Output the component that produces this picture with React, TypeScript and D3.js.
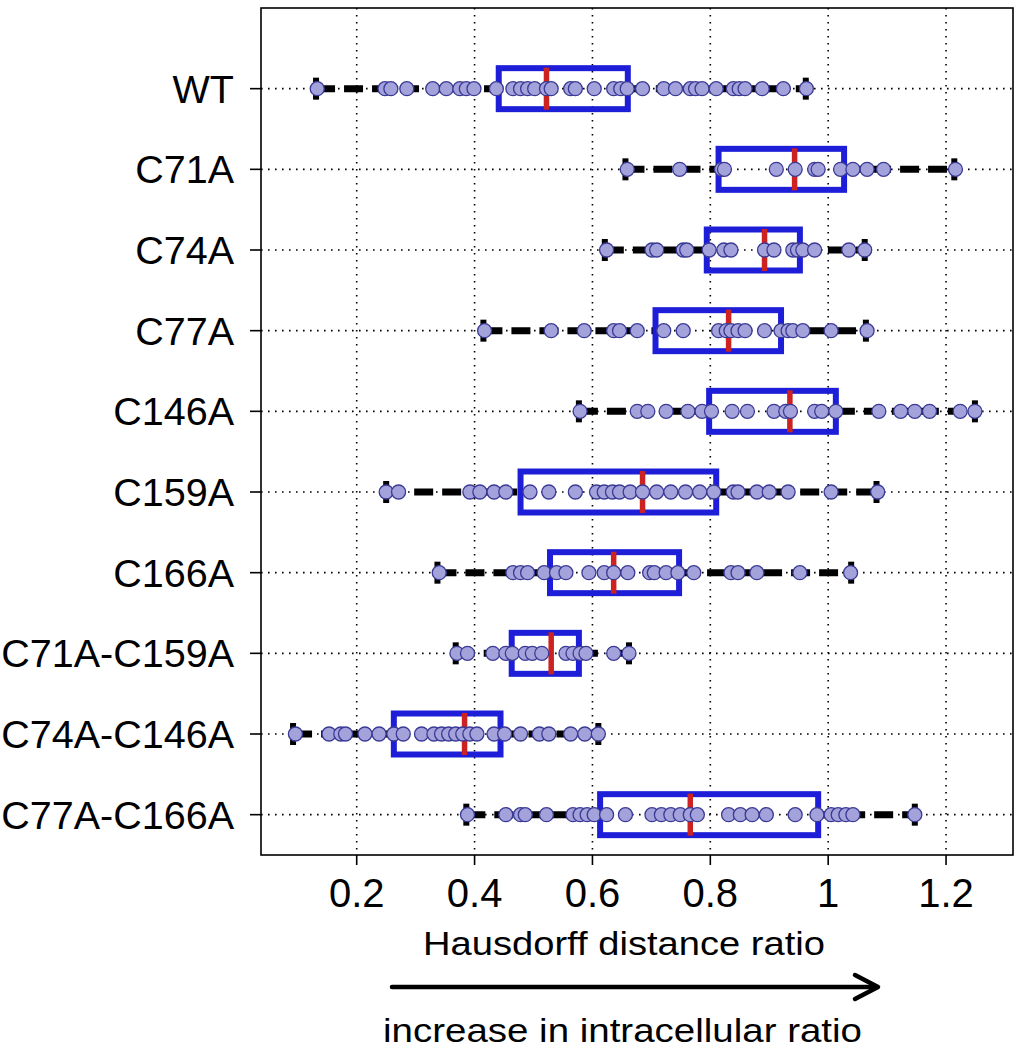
import React from "react";
import * as d3 from "d3";

const categories = ["WT", "C71A", "C74A", "C77A", "C146A", "C159A", "C166A", "C71A-C159A", "C74A-C146A", "C77A-C166A"];

const q1 = [0.441, 0.814, 0.794, 0.707, 0.798, 0.478, 0.528, 0.463, 0.263, 0.613];
const medians = [0.522, 0.943, 0.892, 0.831, 0.935, 0.685, 0.636, 0.530, 0.383, 0.766];
const q3 = [0.660, 1.027, 0.952, 0.920, 1.013, 0.810, 0.747, 0.577, 0.444, 0.983];
const whiskerLo = [0.131, 0.656, 0.621, 0.415, 0.577, 0.250, 0.337, 0.368, 0.092, 0.386];
const whiskerHi = [0.962, 1.214, 1.062, 1.064, 1.249, 1.082, 1.039, 0.662, 0.610, 1.147];

const pointsWT = [0.133, 0.248, 0.258, 0.285, 0.329, 0.352, 0.375, 0.386, 0.399, 0.437, 0.465, 0.478, 0.490, 0.502, 0.522, 0.530, 0.563, 0.571, 0.603, 0.636, 0.648, 0.659, 0.685, 0.721, 0.741, 0.766, 0.775, 0.786, 0.810, 0.839, 0.849, 0.859, 0.888, 0.924, 0.963];
const pointsC71A = [0.659, 0.748, 0.819, 0.824, 0.912, 0.944, 0.977, 0.983, 1.021, 1.042, 1.066, 1.094, 1.216];
const pointsC74A = [0.624, 0.701, 0.709, 0.754, 0.760, 0.798, 0.823, 0.835, 0.892, 0.908, 0.940, 0.948, 0.957, 0.977, 1.035, 1.062];
const pointsC77A = [0.417, 0.530, 0.586, 0.636, 0.646, 0.676, 0.721, 0.754, 0.814, 0.827, 0.835, 0.847, 0.859, 0.892, 0.920, 0.932, 0.940, 0.957, 1.005, 1.066];
const pointsC146A = [0.579, 0.676, 0.694, 0.725, 0.762, 0.786, 0.802, 0.837, 0.863, 0.908, 0.928, 0.936, 0.977, 0.989, 1.013, 1.086, 1.123, 1.147, 1.172, 1.224, 1.249];
const pointsC159A = [0.250, 0.271, 0.392, 0.409, 0.433, 0.453, 0.494, 0.526, 0.571, 0.607, 0.620, 0.634, 0.646, 0.664, 0.685, 0.709, 0.733, 0.758, 0.782, 0.806, 0.839, 0.847, 0.879, 0.900, 0.932, 1.005, 1.084];
const pointsC166A = [0.340, 0.465, 0.478, 0.490, 0.518, 0.539, 0.555, 0.594, 0.620, 0.636, 0.660, 0.697, 0.705, 0.725, 0.745, 0.772, 0.835, 0.847, 0.879, 0.952, 1.038];
const pointsC71AC159A = [0.370, 0.388, 0.431, 0.453, 0.464, 0.486, 0.498, 0.514, 0.555, 0.567, 0.579, 0.589, 0.636, 0.662];
const pointsC74AC146A = [0.096, 0.153, 0.173, 0.181, 0.214, 0.238, 0.263, 0.279, 0.310, 0.331, 0.344, 0.356, 0.368, 0.380, 0.392, 0.404, 0.433, 0.451, 0.478, 0.510, 0.526, 0.563, 0.587, 0.610];
const pointsC77AC166A = [0.388, 0.453, 0.478, 0.486, 0.522, 0.567, 0.579, 0.591, 0.603, 0.624, 0.656, 0.701, 0.717, 0.733, 0.749, 0.766, 0.778, 0.831, 0.851, 0.871, 0.895, 0.944, 0.981, 1.005, 1.017, 1.030, 1.042, 1.147];

const pointSets = [pointsWT, pointsC71A, pointsC74A, pointsC77A, pointsC146A, pointsC159A, pointsC166A, pointsC71AC159A, pointsC74AC146A, pointsC77AC166A];

const xTicks = [0.2, 0.4, 0.6, 0.8, 1, 1.2];
const xLabel = "Hausdorff distance ratio";
const arrowLabel = "increase in intracellular ratio";

const FONT = "'Liberation Sans', Arial, Helvetica, sans-serif";

export default function App() {
  const left = 261, right = 1013, top = 8, bottom = 855;
  const x = d3.scaleLinear().domain([0.0376, 1.3136]).range([left, right]);
  const y = d3.scaleLinear().domain([-1, 9.5]).range([top, bottom]);
  const boxH = 41;
  const medH = 42;
  const capH = 22;
  const blue = "#1e1ed8";
  const red = "#cc2222";

  return (
    <svg width={1027} height={1050} style={{ position: "absolute", left: 0, top: 0, background: "#fff" }}>
      {xTicks.map((t) => (
        <line key={"gx" + t} x1={x(t)} x2={x(t)} y1={top} y2={bottom} stroke="#000" strokeWidth={1.6} strokeDasharray="1.6 5.4" />
      ))}
      {categories.map((c, i) => (
        <line key={"gy" + c} x1={left} x2={right} y1={y(i)} y2={y(i)} stroke="#000" strokeWidth={1.6} strokeDasharray="1.6 5.4" />
      ))}
      <rect x={left} y={top} width={right - left} height={bottom - top} fill="none" stroke="#000" strokeWidth={1.6} />
      {xTicks.map((t) => (
        <g key={"tx" + t}>
          <line x1={x(t)} x2={x(t)} y1={bottom} y2={bottom + 10} stroke="#000" strokeWidth={1.6} />
          <text x={x(t)} y={907} textAnchor="middle" fontFamily={FONT} fontSize={40} fill="#000">{d3.format("~g")(t)}</text>
        </g>
      ))}
      {categories.map((c, i) => (
        <g key={"ty" + c}>
          <line x1={left - 11} x2={left} y1={y(i)} y2={y(i)} stroke="#000" strokeWidth={1.6} />
          <text x={234} y={y(i) + 14} textAnchor="end" fontFamily={FONT} fontSize={39.5} textLength={undefined} fill="#000">{c}</text>
        </g>
      ))}
      {categories.map((c, i) => {
        const cy = y(i);
        return (
          <g key={"bx" + c}>
            <line x1={x(whiskerLo[i])} x2={x(q1[i])} y1={cy} y2={cy} stroke="#000" strokeWidth={7} strokeDasharray="19 9" />
            <line x1={x(q3[i])} x2={x(whiskerHi[i])} y1={cy} y2={cy} stroke="#000" strokeWidth={7} strokeDasharray="19 9" />
            <line x1={x(whiskerLo[i])} x2={x(whiskerLo[i])} y1={cy - capH / 2} y2={cy + capH / 2} stroke="#000" strokeWidth={6} />
            <line x1={x(whiskerHi[i])} x2={x(whiskerHi[i])} y1={cy - capH / 2} y2={cy + capH / 2} stroke="#000" strokeWidth={6} />
            <rect x={x(q1[i])} y={cy - boxH / 2} width={x(q3[i]) - x(q1[i])} height={boxH} fill="none" stroke={blue} strokeWidth={6} />
            <line x1={x(medians[i])} x2={x(medians[i])} y1={cy - medH / 2} y2={cy + medH / 2} stroke={red} strokeWidth={5.5} />
            {pointSets[i].map((v, j) => (
              <circle key={j} cx={x(v)} cy={cy} r={7} fill="#a4a2da" stroke="#3a3a96" strokeWidth={1.3} />
            ))}
          </g>
        );
      })}
      <text x={624} y={955} textAnchor="middle" fontFamily={FONT} fontSize={33} textLength={402} lengthAdjust="spacingAndGlyphs" fill="#000">{xLabel}</text>
      <line x1={392} x2={876} y1={987} y2={987} stroke="#000" strokeWidth={4.5} strokeLinecap="round" />
      <polyline points="855,975 878,987 855,999" fill="none" stroke="#000" strokeWidth={4.5} strokeLinecap="round" strokeLinejoin="round" />
      <text x={622.5} y={1042} textAnchor="middle" fontFamily={FONT} fontSize={34} textLength={479} lengthAdjust="spacingAndGlyphs" fill="#000">{arrowLabel}</text>
    </svg>
  );
}
